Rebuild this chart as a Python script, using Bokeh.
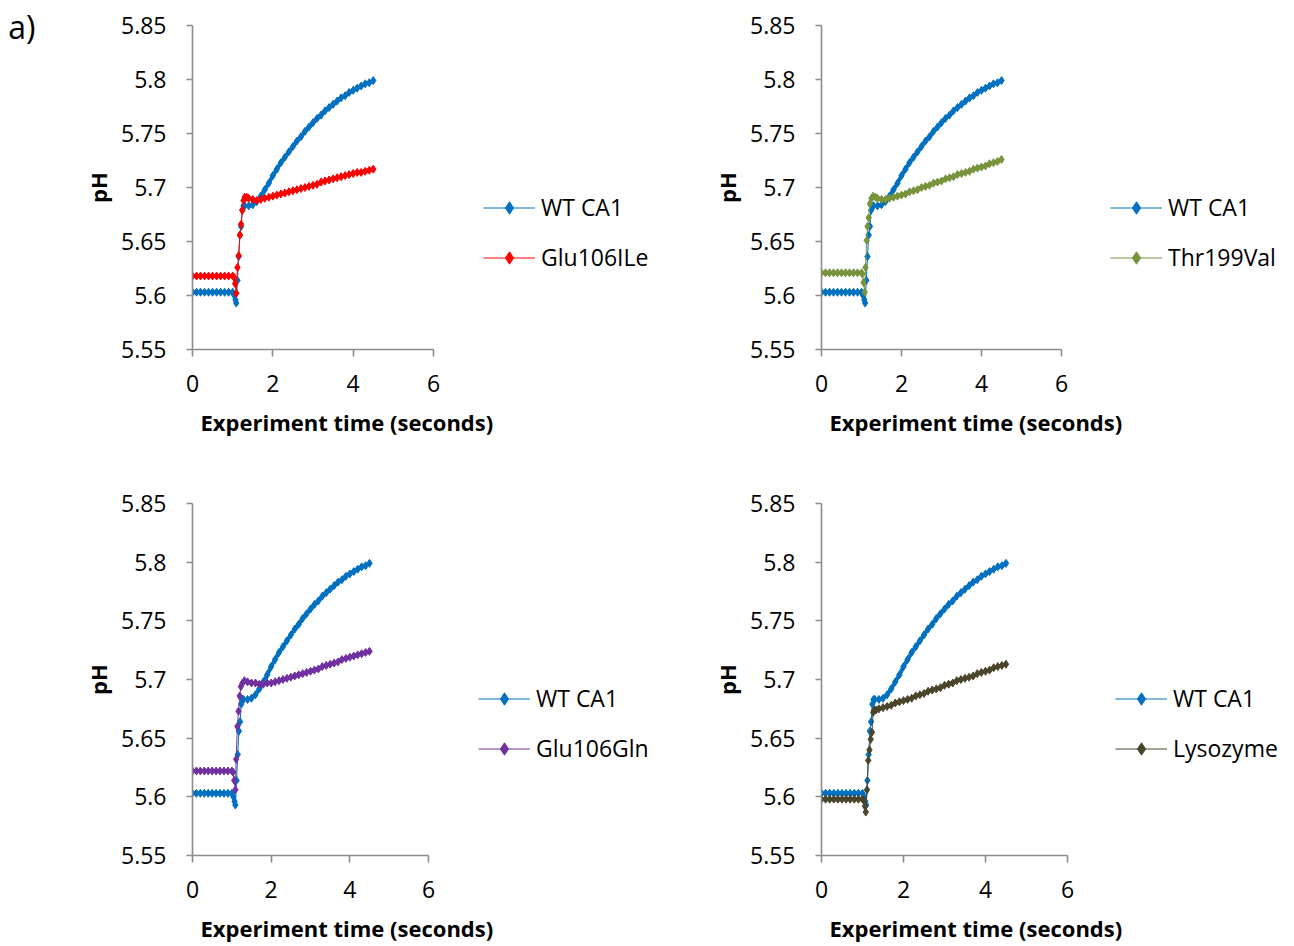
from bokeh.embed import file_html
from bokeh.layouts import column, row
from bokeh.models import (CustomJSTickFormatter, FixedTicker, Legend,
                          LegendItem, LinearAxis, Range1d, Title)
from bokeh.plotting import figure
from bokeh.resources import INLINE

# ---------------------------------------------------------------- data
# Baseline before mixing (seconds)
T_BASE = [0.0, 0.1, 0.2, 0.3, 0.4, 0.5, 0.6, 0.7, 0.8, 0.9, 1.0]
# Slow phase after the jump (seconds)
T_TAIL = [1.4, 1.5, 1.6, 1.7, 1.8, 1.9, 2.0, 2.1, 2.2, 2.3, 2.4, 2.5, 2.6,
          2.7, 2.8, 2.9, 3.0, 3.1, 3.2, 3.3, 3.4, 3.5, 3.6, 3.7, 3.8, 3.9,
          4.0, 4.1, 4.2, 4.3, 4.4, 4.5]

# WT CA1
WT_BASE = [5.603, 5.603, 5.603, 5.603, 5.603, 5.603, 5.603, 5.603, 5.603, 5.603, 5.603]
WT_JUMP_T = [1.04, 1.07, 1.09, 1.12, 1.15, 1.18, 1.21, 1.24, 1.27, 1.30]
WT_JUMP = [5.600, 5.596, 5.593, 5.614, 5.636, 5.656, 5.664, 5.679, 5.683, 5.683]
WT_TAIL = [5.683, 5.684, 5.687, 5.692, 5.698, 5.704, 5.711, 5.717, 5.723, 5.728,
           5.733, 5.738, 5.743, 5.747, 5.752, 5.756, 5.760, 5.764, 5.767, 5.771,
           5.774, 5.777, 5.780, 5.783, 5.785, 5.788, 5.790, 5.792, 5.794, 5.796,
           5.797, 5.799]

# Glu106ILe
E106I_BASE = [5.618, 5.618, 5.618, 5.618, 5.618, 5.618, 5.618, 5.618, 5.618, 5.618, 5.618]
E106I_JUMP_T = [1.03, 1.06, 1.09, 1.12, 1.15, 1.18, 1.21, 1.24, 1.27, 1.30, 1.35]
E106I_JUMP = [5.617, 5.611, 5.602, 5.626, 5.637, 5.656, 5.666, 5.679, 5.688, 5.691, 5.691]
E106I_TAIL = [5.690, 5.689, 5.688, 5.689, 5.690, 5.691, 5.692, 5.693, 5.694, 5.695,
              5.696, 5.697, 5.698, 5.699, 5.700, 5.701, 5.702, 5.703, 5.705, 5.706,
              5.707, 5.708, 5.709, 5.710, 5.711, 5.712, 5.713, 5.714, 5.714, 5.715,
              5.716, 5.717]

# Thr199Val
T199V_BASE = [5.621, 5.621, 5.621, 5.621, 5.621, 5.621, 5.621, 5.621, 5.621, 5.621, 5.621]
T199V_JUMP_T = [1.02, 1.05, 1.08, 1.10, 1.13, 1.15, 1.18, 1.21, 1.25, 1.29, 1.35]
T199V_JUMP = [5.620, 5.612, 5.603, 5.626, 5.651, 5.664, 5.672, 5.685, 5.690, 5.692, 5.691]
T199V_TAIL = [5.690, 5.689, 5.689, 5.690, 5.691, 5.692, 5.693, 5.694, 5.696, 5.697,
              5.698, 5.700, 5.701, 5.702, 5.704, 5.705, 5.706, 5.708, 5.709, 5.710,
              5.712, 5.713, 5.714, 5.715, 5.717, 5.718, 5.719, 5.720, 5.722, 5.723,
              5.724, 5.726]

# Glu106Gln
E106Q_BASE = [5.622, 5.622, 5.622, 5.622, 5.622, 5.622, 5.622, 5.622, 5.622, 5.622, 5.622]
E106Q_JUMP_T = [1.03, 1.06, 1.09, 1.11, 1.14, 1.17, 1.20, 1.23, 1.27, 1.32]
E106Q_JUMP = [5.621, 5.614, 5.606, 5.632, 5.660, 5.673, 5.686, 5.694, 5.697, 5.699]
E106Q_TAIL = [5.698, 5.697, 5.697, 5.696, 5.696, 5.697, 5.697, 5.698, 5.699, 5.700,
              5.701, 5.702, 5.703, 5.704, 5.705, 5.706, 5.707, 5.708, 5.709, 5.711,
              5.712, 5.713, 5.714, 5.715, 5.717, 5.718, 5.719, 5.720, 5.721, 5.722,
              5.723, 5.724]

# Lysozyme
LYS_BASE = [5.598, 5.598, 5.598, 5.598, 5.598, 5.598, 5.598, 5.598, 5.598, 5.598, 5.598]
LYS_JUMP_T = [1.03, 1.06, 1.08, 1.11, 1.14, 1.17, 1.20, 1.23, 1.26, 1.29, 1.33]
LYS_JUMP = [5.597, 5.592, 5.587, 5.606, 5.631, 5.640, 5.649, 5.655, 5.672, 5.674, 5.674]
LYS_TAIL = [5.675, 5.676, 5.677, 5.678, 5.680, 5.681, 5.682, 5.683, 5.684, 5.686,
            5.687, 5.688, 5.690, 5.691, 5.692, 5.693, 5.695, 5.696, 5.697, 5.699,
            5.700, 5.701, 5.702, 5.703, 5.705, 5.706, 5.707, 5.708, 5.710, 5.711,
            5.712, 5.713]

X_TICKS = [0, 2, 4, 6]
Y_TICKS = [5.55, 5.6, 5.65, 5.7, 5.75, 5.8, 5.85]
X_MAX = 6

# ---------------------------------------------------------------- style
FONT = "Open Sans"
AXIS_GREY = "#8c8c8c"
C_WT = "#0070C0"
TEXT_PX = "23px"


def draw_series(p, base, jump_t, jump, tail, color):
    """Thin connecting line, dense diamond markers, solid bands where sampling is dense."""
    t = T_BASE + jump_t + T_TAIL
    y = base + jump + tail
    ln = p.line(t, y, line_color=color, line_width=1)
    p.line(T_BASE, base, line_color=color, line_width=4)
    p.line(T_TAIL, tail, line_color=color, line_width=4)
    sc = p.scatter(t, y, marker="diamond", size=8, fill_color=color, line_color=color)
    return [ln, sc]


def make_panel(mutant, name, color, axis_px, frame_w, frame_h, top, bottom, left,
               legend_xy, tag=None):
    # the plot area also holds the legend; the x axis itself stops at X_MAX
    x_end = X_MAX * frame_w / axis_px
    p = figure(frame_width=frame_w, frame_height=frame_h,
               min_border_left=left, min_border_right=0,
               min_border_top=top, min_border_bottom=bottom,
               x_range=Range1d(0, x_end), y_range=Range1d(5.55, 5.85),
               output_backend="svg", toolbar_location=None)
    p.outline_line_color = None
    p.xgrid.visible = False
    p.ygrid.visible = False
    p.background_fill_color = "white"
    p.border_fill_color = "white"

    for ax in (p.xaxis[0], p.yaxis[0]):
        ax.axis_line_color = AXIS_GREY
        ax.axis_line_width = 1.6
        ax.major_tick_line_color = AXIS_GREY
        ax.major_tick_line_width = 1.6
        ax.major_tick_in = 0
        ax.minor_tick_line_color = None
        ax.major_label_text_font = FONT
        ax.major_label_text_font_size = TEXT_PX
        ax.major_label_text_color = "black"
    p.xaxis.ticker = FixedTicker(ticks=X_TICKS)
    p.xaxis.bounds = (0, X_MAX)
    p.yaxis.ticker = FixedTicker(ticks=Y_TICKS)
    p.yaxis.formatter = CustomJSTickFormatter(code="return String(Number(tick.toFixed(2)));")
    p.xaxis.major_tick_out = 7
    p.yaxis.major_tick_out = 6
    p.xaxis.major_label_standoff = 18
    p.yaxis.major_label_standoff = 20

    p.yaxis.axis_label = "pH"
    p.yaxis.axis_label_text_font = FONT
    p.yaxis.axis_label_text_font_size = "22px"
    p.yaxis.axis_label_text_font_style = "bold"
    p.yaxis.axis_label_text_color = "black"
    p.yaxis.axis_label_standoff = 5

    p.add_layout(Title(text="Experiment time (seconds)", align="left", offset=8,
                       standoff=20, text_font=FONT, text_font_size="22px",
                       text_font_style="bold", text_color="black"), "below")

    wt = draw_series(p, WT_BASE, WT_JUMP_T, WT_JUMP, WT_TAIL, C_WT)
    mt = draw_series(p, *mutant, color)

    legend = Legend(items=[LegendItem(label="WT CA1", renderers=wt),
                           LegendItem(label=name, renderers=mt)],
                    location=legend_xy,
                    glyph_width=52, glyph_height=31, label_height=31,
                    label_standoff=6, spacing=18, padding=0, margin=0,
                    border_line_color=None, background_fill_alpha=0,
                    label_text_font=FONT, label_text_font_size=TEXT_PX,
                    label_text_color="black")
    p.add_layout(legend)

    if tag:
        # panel tag drawn as the single label of a bare outer axis
        mark = frame_h - 1
        p.extra_y_ranges = {"tag": Range1d(0, frame_h)}
        tag_axis = LinearAxis(y_range_name="tag", ticker=FixedTicker(ticks=[mark]),
                              major_label_overrides={mark: tag})
        tag_axis.axis_line_color = None
        tag_axis.major_tick_line_color = None
        tag_axis.minor_tick_line_color = None
        tag_axis.major_tick_in = 0
        tag_axis.major_tick_out = 0
        tag_axis.major_label_standoff = 45
        tag_axis.major_label_text_font = FONT
        tag_axis.major_label_text_font_size = "32px"
        tag_axis.major_label_text_color = "black"
        p.add_layout(tag_axis, "left")
    return p


p1 = make_panel((E106I_BASE, E106I_JUMP_T, E106I_JUMP, E106I_TAIL),
                "Glu106ILe", "#FF0000", 241, 471, 324, 25, 111, 192, (291, 76), tag="a)")
p2 = make_panel((T199V_BASE, T199V_JUMP_T, T199V_JUMP, T199V_TAIL),
                "Thr199Val", "#77933C", 240, 473, 324, 25, 111, 158, (289, 76))
p3 = make_panel((E106Q_BASE, E106Q_JUMP_T, E106Q_JUMP, E106Q_TAIL),
                "Glu106Gln", "#7030A0", 236, 471, 352, 43, 91, 192, (286, 91))
p4 = make_panel((LYS_BASE, LYS_JUMP_T, LYS_JUMP, LYS_TAIL),
                "Lysozyme", "#4A452A", 246, 473, 352, 43, 91, 158, (294, 91))

layout = column(row(p1, p2), row(p3, p4))
open("out.html", "w").write(file_html(layout, INLINE))
